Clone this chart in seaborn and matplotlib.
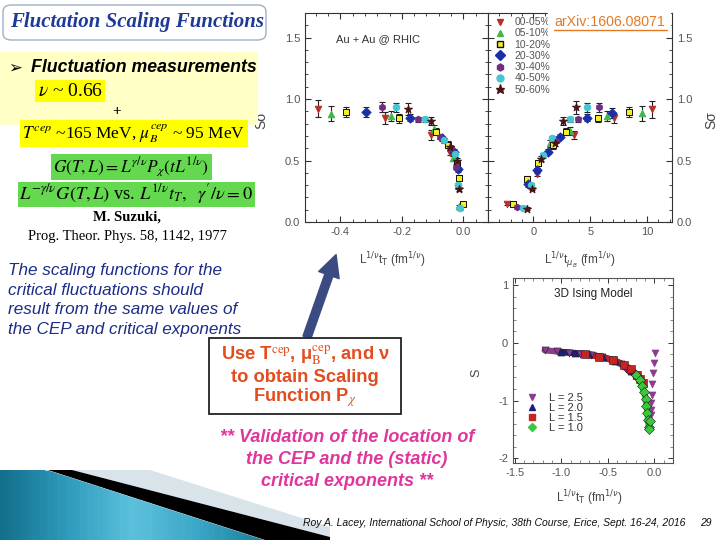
import numpy as np
import pandas as pd
import matplotlib
matplotlib.use("Agg")
import matplotlib.pyplot as plt
import seaborn as sns
from matplotlib.patches import Rectangle, FancyBboxPatch, Polygon, FancyArrowPatch
from matplotlib.lines import Line2D
from matplotlib.ticker import MultipleLocator

sns.set_style("ticks")
plt.rcParams["font.family"] = ["Liberation Sans", "DejaVu Sans"]
plt.rcParams["mathtext.fontset"] = "dejavusans"

# ---- scaling data ----
CLASSES = ["00-05%", "05-10%", "10-20%", "20-30%", "30-40%", "40-50%", "50-60%"]
CLS_COLORS = ["#b8302c", "#3fb84a", "#f2ee2a", "#1c2fa8", "#6e2f82", "#46c6d2", "#4a1414"]
CLS_MARKERS = ["v", "^", "s", "D", "h", "o", "*"]

# left panel: S*sigma vs L^(1/nu) t_T
T_CLASS = (["00-05%"] * 5 + ["05-10%"] * 5 + ["10-20%"] * 7 + ["20-30%"] * 5
           + ["30-40%"] * 5 + ["40-50%"] * 6 + ["50-60%"] * 5)
T_X = [-0.472, -0.256, -0.106, -0.045, -0.016,
       -0.432, -0.236, -0.095, -0.035, -0.013,
       -0.381, -0.208, -0.090, -0.051, -0.021, -0.015, -0.002,
       -0.317, -0.175, -0.070, -0.030, -0.018,
       -0.264, -0.146, -0.076, -0.040, -0.024,
       -0.219, -0.124, -0.063, -0.026, -0.016, -0.011,
       -0.179, -0.104, -0.043, -0.020, -0.015]
T_Y = [0.92, 0.845, 0.71, 0.565, 0.28,
       0.88, 0.865, 0.755, 0.52, 0.13,
       0.897, 0.842, 0.735, 0.63, 0.48, 0.36, 0.15,
       0.894, 0.848, 0.68, 0.57, 0.43,
       0.935, 0.834, 0.695, 0.60, 0.45,
       0.932, 0.834, 0.666, 0.55, 0.30, 0.11,
       0.921, 0.823, 0.61, 0.50, 0.27]
T_ERR = [0.07, 0.05, 0.04, 0.02, 0.015,
         0.06, 0.04, 0.03, 0.02, 0.01,
         0.04, 0.035, 0.03, 0.03, 0.02, 0.02, 0.01,
         0.04, 0.03, 0.02, 0.02, 0.02,
         0.04, 0.02, 0.02, 0.02, 0.02,
         0.04, 0.02, 0.02, 0.02, 0.02, 0.01,
         0.05, 0.03, 0.02, 0.02, 0.015]

# right panel: S*sigma vs L^(1/nu) t_muB
M_CLASS = (["00-05%"] * 5 + ["05-10%"] * 4 + ["10-20%"] * 7 + ["20-30%"] * 6
           + ["30-40%"] * 4 + ["40-50%"] * 6 + ["50-60%"] * 6)
M_X = [10.44, 7.06, 3.59, 0.29, -2.3,
       9.56, 6.47, 3.24, 1.47,
       8.38, 5.68, 2.88, 1.76, 0.44, -0.53, -1.82,
       6.91, 4.70, 2.35, 1.32, 0.29, -0.44,
       5.74, 3.88, 2.0, -1.41,
       4.70, 3.24, 1.6, 0.88, -0.21, -0.88,
       3.76, 2.59, 1.9, 0.65, -0.15, -0.59]
M_Y = [0.916, 0.842, 0.707, 0.394, 0.15,
       0.883, 0.861, 0.74, 0.64,
       0.897, 0.842, 0.734, 0.625, 0.476, 0.353, 0.144,
       0.889, 0.848, 0.693, 0.571, 0.42, 0.307,
       0.932, 0.834, 0.66, 0.122,
       0.932, 0.834, 0.68, 0.543, 0.30, 0.117,
       0.932, 0.823, 0.64, 0.516, 0.272, 0.109]
M_ERR = [0.07, 0.04, 0.03, 0.02, 0.01,
         0.06, 0.04, 0.03, 0.03,
         0.04, 0.03, 0.03, 0.03, 0.02, 0.02, 0.01,
         0.04, 0.03, 0.02, 0.02, 0.02, 0.02,
         0.04, 0.02, 0.02, 0.01,
         0.04, 0.02, 0.02, 0.02, 0.02, 0.01,
         0.05, 0.03, 0.02, 0.02, 0.015, 0.01]

# 3D Ising model scaling function
L_LABELS = ["L = 2.5", "L = 2.0", "L = 1.5", "L = 1.0"]
L_COLORS = ["#8a3c8e", "#1e1e7a", "#c42424", "#3cc83c"]
L_MARKERS = ["v", "^", "s", "D"]
IS_L = (["L = 2.5"] * 10 + ["L = 2.0"] * 8 + ["L = 1.5"] * 8 + ["L = 1.0"] * 11)
IS_X = [-1.18, -1.05, -0.92, -0.80, -0.68, -0.56, -0.45, -0.36, -0.30, -0.24,
        -1.00, -0.85, -0.70, -0.55, -0.42, -0.32, -0.25, -0.20,
        -0.75, -0.60, -0.45, -0.33, -0.25, -0.19, -0.15, -0.12,
        -0.20, -0.16, -0.13, -0.11, -0.095, -0.085, -0.075, -0.068, -0.062, -0.058, -0.045]
IS_Y = [-0.13, -0.15, -0.17, -0.19, -0.21, -0.25, -0.30, -0.37, -0.45, -0.52,
        -0.16, -0.18, -0.20, -0.25, -0.31, -0.39, -0.48, -0.55,
        -0.20, -0.24, -0.30, -0.38, -0.46, -0.55, -0.62, -0.70,
        -0.55, -0.65, -0.75, -0.86, -0.98, -1.10, -1.22, -1.34, -1.45, -1.50, -1.35]
# separate column of L = 2.5 points near t = 0
COL_X = [0.005, -0.005, -0.015, -0.022, -0.028, -0.033, -0.037, -0.040]
COL_Y = [-0.17, -0.35, -0.52, -0.71, -0.90, -1.04, -1.16, -1.25]

W, H = 720, 540
fig = plt.figure(figsize=(7.2, 5.4), dpi=100)


def fx(x):
    return x / W


def fy(y):
    return 1 - y / H


def frect(x0, y0, x1, y1, **kw):
    r = Rectangle((fx(x0), fy(y1)), (x1 - x0) / W, (y1 - y0) / H,
                  transform=fig.transFigure, **kw)
    fig.add_artist(r)
    return r


def ftext(x, y, s, **kw):
    kw.setdefault("va", "center")
    return fig.text(fx(x), fy(y), s, **kw)


def ax_rect(x0, y0, x1, y1):
    return [fx(x0), fy(y1), (x1 - x0) / W, (y1 - y0) / H]


# ---- scaling panels ----
df_T = pd.DataFrame({"cls": T_CLASS, "x": T_X, "y": T_Y, "err": T_ERR})
df_M = pd.DataFrame({"cls": M_CLASS, "x": M_X, "y": M_Y, "err": M_ERR})

axL = fig.add_axes(ax_rect(305, 13, 488, 222))
axR = fig.add_axes(ax_rect(488, 13, 672, 222))


def draw_panel(ax, df):
    ax.errorbar(df["x"], df["y"], yerr=df["err"], fmt="none", ecolor="#222222",
                elinewidth=0.8, capsize=2.5, capthick=0.8, zorder=2)
    for c, col, mk in zip(CLASSES, CLS_COLORS, CLS_MARKERS):
        sub = df[df["cls"] == c]
        ec = "#111111" if c == "10-20%" else col
        sns.scatterplot(data=sub, x="x", y="y", color=col, marker=mk,
                        s=36 if mk == "*" else 22, edgecolor=ec, linewidth=0.7,
                        ax=ax, zorder=3, legend=False)


draw_panel(axL, df_T)
draw_panel(axR, df_M)

tick_kw = dict(direction="in", top=True, right=True, left=True, bottom=True,
               labelsize=8, labelcolor="#555555", color="#333333")
for ax in (axL, axR):
    ax.set_ylim(0, 1.7)
    ax.yaxis.set_major_locator(MultipleLocator(0.5))
    ax.yaxis.set_minor_locator(MultipleLocator(0.1))
    ax.tick_params(which="major", length=4, width=0.8, **tick_kw)
    ax.tick_params(which="minor", length=2, width=0.6, direction="in",
                   top=True, right=True, left=True, bottom=True)
    for sp in ax.spines.values():
        sp.set_linewidth(0.8)
        sp.set_color("#333333")

axL.set_xlim(-0.515, 0.08)
axL.xaxis.set_minor_locator(MultipleLocator(0.04))
axL.set_xticks([-0.4, -0.2, 0.0])
axL.set_xticklabels(["-0.4", "-0.2", "0.0"])
axL.set_yticks([0.0, 0.5, 1.0, 1.5])
axL.set_yticklabels(["0.0", "0.5", "1.0", "1.5"])
axL.tick_params(labelright=False)

axR.set_xlim(-4.0, 12.2)
axR.set_xticks([0, 5, 10])
axR.xaxis.set_minor_locator(MultipleLocator(1))
axR.set_yticks([0.0, 0.5, 1.0, 1.5])
axR.set_yticklabels(["0.0", "0.5", "1.0", "1.5"])
axR.tick_params(labelleft=False, labelright=True)

axL.set_xlabel(r"L$^{1/\nu}$t$_{\rm T}$ (fm$^{1/\nu}$)", fontsize=8.5, color="#444444")
axL.xaxis.set_label_coords(0.48, -0.135)
axR.set_xlabel(r"L$^{1/\nu}$t$_{\mu_B}$ (fm$^{1/\nu}$)", fontsize=8.5, color="#444444")
axR.xaxis.set_label_coords(0.50, -0.135)
axL.set_ylabel("Sσ", fontsize=10, color="#444444")
axL.yaxis.set_label_coords(-0.20, 0.49)
axR.set_ylabel("Sσ", fontsize=10, color="#444444", rotation=90)
axR.yaxis.set_label_position("right")
axR.yaxis.set_label_coords(1.175, 0.49)

axL.text(0.17, 0.875, "Au + Au @ RHIC", transform=axL.transAxes, fontsize=8,
         color="#333333", va="center")

handles = [Line2D([], [], ls="none", marker=mk, color=col,
                  markeredgecolor=("#111111" if c == "10-20%" else col),
                  markersize=5 if mk != "*" else 6.5)
           for c, col, mk in zip(CLASSES, CLS_COLORS, CLS_MARKERS)]
leg = axR.legend(handles, CLASSES, loc="upper left", bbox_to_anchor=(0.03, 0.985),
                 frameon=False, fontsize=7.5, handlelength=1.0, handletextpad=0.9,
                 labelspacing=0.12, borderaxespad=0, borderpad=0.1)
for t in leg.get_texts():
    t.set_color("#555555")

# ---- 3D Ising panel ----
df_I = pd.DataFrame({"L": IS_L, "x": IS_X, "y": IS_Y})
axI = fig.add_axes(ax_rect(513, 278, 673, 463))
for lab, col, mk in zip(L_LABELS, L_COLORS, L_MARKERS):
    sub = df_I[df_I["L"] == lab]
    sns.lineplot(data=sub, x="x", y="y", sort=False, color=col, lw=4.5,
                 ax=axI, legend=False, zorder=2)
    sns.scatterplot(data=sub, x="x", y="y", color=col, marker=mk, s=26,
                    edgecolor="#222222", linewidth=0.4, ax=axI, legend=False, zorder=3)
    if lab == "L = 2.5":
        sns.scatterplot(x=COL_X, y=COL_Y, color=col, marker=mk, s=26,
                        edgecolor=col, linewidth=0.4, ax=axI, legend=False, zorder=3)
axI.set_xlim(-1.52, 0.2)
axI.set_ylim(-2.08, 1.12)
axI.set_xticks([-1.5, -1.0, -0.5, 0.0])
axI.set_xticklabels(["-1.5", "-1.0", "-0.5", "0.0"])
axI.set_yticks([-2, -1, 0, 1])
axI.set_yticklabels(["-2", "-1", "0", "1"])
axI.xaxis.set_minor_locator(MultipleLocator(0.1))
axI.yaxis.set_minor_locator(MultipleLocator(0.2))
axI.tick_params(which="major", length=3.5, width=0.7, **tick_kw)
axI.tick_params(which="minor", length=2, width=0.5, direction="in",
                top=True, right=True, left=True, bottom=True, color="#555555")
for sp in axI.spines.values():
    sp.set_linewidth(0.8)
    sp.set_color("#555555")
axI.set_xlabel(r"L$^{1/\nu}$t$_{\rm T}$ (fm$^{1/\nu}$)", fontsize=8.5, color="#444444")
axI.xaxis.set_label_coords(0.48, -0.135)
axI.set_ylabel("S", fontsize=9, color="#444444")
axI.yaxis.set_label_coords(-0.19, 0.49)
axI.text(0.5, 0.915, "3D Ising Model", transform=axI.transAxes, ha="center",
         va="center", fontsize=8.5, color="#222222")
ih = [Line2D([], [], ls="none", marker=mk, color=col, markersize=4.5)
      for col, mk in zip(L_COLORS, L_MARKERS)]
legI = axI.legend(ih, L_LABELS, loc="upper left", bbox_to_anchor=(0.08, 0.385),
                  frameon=False, fontsize=8, handlelength=1.0, handletextpad=1.0,
                  labelspacing=0.0, borderaxespad=0, borderpad=0.1)
for t in legI.get_texts():
    t.set_color("#333333")

# ---- slide decorations and text ----
fig.add_artist(FancyBboxPatch((fx(3), fy(40)), (266 - 3) / W, (40 - 5) / H,
                              boxstyle="round,pad=0,rounding_size=0.012",
                              transform=fig.transFigure, facecolor="white",
                              edgecolor="#9fb0c8", lw=1.0))
ftext(10, 22, "Fluctation Scaling Functions", fontsize=15, fontweight="bold",
      fontstyle="italic", family=["Liberation Serif", "DejaVu Serif"], color="#1f3a96")

frect(0, 52, 258, 125, facecolor="#ffffc6", edgecolor="none", zorder=0.5)
ftext(8, 68, "\u27a2", fontsize=12, family=["DejaVu Sans"], color="black")
ftext(31, 68, "Fluctuation measurements", fontsize=12.8, fontweight="bold",
      fontstyle="italic", color="black")

frect(35, 80, 105, 102, facecolor="#ffff00", edgecolor="none", zorder=0.6)
ftext(38, 91, r"$\nu$ ~ 0.66", fontsize=14, family=["Liberation Serif"],
      math_fontfamily="stix", color="black")
ftext(117, 112, "+", fontsize=11, fontweight="bold", ha="center",
      family=["Liberation Serif"], color="black")
frect(20, 120, 248, 147, facecolor="#ffff00", edgecolor="none", zorder=0.6)
ftext(134, 134, r"$T^{cep}$ ~165 MeV, $\mu_B^{cep}$ ~ 95 MeV", fontsize=12.5,
      ha="center", family=["Liberation Serif"], math_fontfamily="stix", color="black")
frect(51, 154, 212, 180, facecolor="#64d84e", edgecolor="none", zorder=0.6)
ftext(131, 167, r"$G(T,L) = L^{\gamma/\nu}P_\chi(tL^{1/\nu})$", fontsize=12.5,
      ha="center", math_fontfamily="stix", color="black")
frect(18, 182, 255, 207, facecolor="#64d84e", edgecolor="none", zorder=0.6)
ftext(136, 194, r"$L^{-\gamma/\nu}G(T,L)$ vs. $L^{1/\nu}t_T,\ \ \gamma'/\nu = 0$",
      fontsize=13.2, ha="center", family=["Liberation Serif"],
      math_fontfamily="stix", color="black")
ftext(127, 217, "M. Suzuki,", fontsize=10.5, ha="center", fontweight="bold",
      family=["Liberation Serif"], color="black")
ftext(127, 236, "Prog. Theor. Phys. 58, 1142, 1977", fontsize=10.5, ha="center",
      family=["Liberation Serif"], color="black")

blue_lines = ["The scaling functions for the", "critical fluctuations should",
              "result from the same values of", "the CEP and critical exponents"]
for i, s in enumerate(blue_lines):
    ftext(8, 271 + i * 19.5, s, fontsize=12.3, fontstyle="italic", color="#1b2c88")

fig.add_artist(FancyArrowPatch((fx(306), fy(340)), (fx(337), fy(252)),
                               transform=fig.transFigure,
                               arrowstyle="simple,head_width=1.3,head_length=1.3,tail_width=0.5",
                               mutation_scale=12, color="#3b4a80", zorder=4))

frect(209, 338, 401, 414, facecolor="white", edgecolor="#222222", lw=1.3, zorder=5)
red_kw = dict(fontsize=13.2, fontweight="bold", ha="center", color="#e24c1f",
              math_fontfamily="stix", zorder=6)
ftext(305, 355, r"Use T$^{\rm cep}$, μ$_{\rm B}^{\rm cep}$, and ν", **red_kw)
ftext(305, 377, "to obtain Scaling", **red_kw)
ftext(305, 398, r"Function P$_\chi$", **red_kw)

mag_lines = ["** Validation of the location of", "the CEP and the (static)",
             "critical exponents **"]
for i, s in enumerate(mag_lines):
    ftext(347, 437 + i * 22, s, fontsize=13, fontweight="bold",
          fontstyle="italic", ha="center", color="#e0369c")

ftext(303, 523, "Roy A. Lacey, International School of Physic, 38th Course, Erice, "
      "Sept. 16-24, 2016", fontsize=7.5, fontstyle="italic", color="#111111")
ftext(700, 523, "29", fontsize=7.5, fontstyle="italic", color="#111111")

# arXiv reference
ftext(554, 22, "arXiv:1606.08071", fontsize=10.2, color="#e27a25",
      backgroundcolor="white", zorder=6)
fig.add_artist(Line2D([fx(554), fx(667)], [fy(30), fy(30)], transform=fig.transFigure,
                      color="#e27a25", lw=1.0, zorder=7))


# bottom-left swoosh (pixel coordinates inside a bare axes)
axG = fig.add_axes([0, 0, fx(330), 70 / H], zorder=-1)
axG.set_axis_off()
axG.add_patch(Polygon([(72, 470), (150, 470), (330, 527), (330, 537)], closed=True,
                      facecolor="#d8e4ea", edgecolor="none"))
axG.add_patch(Polygon([(48, 470), (72, 470), (330, 537), (330, 540), (265, 540)],
                      closed=True, facecolor="black", edgecolor="none"))
teal = sns.blend_palette(["#136f8c", "#2f9bbd", "#5cc0dc", "#3aa6c6", "#1a7d9c"], 60)
edges = np.linspace(0, 266, 61)
for i, c in enumerate(teal):
    xs = np.array([edges[i], edges[i + 1] + 0.6])
    top = np.where(xs <= 48, 470, 470 + (xs - 48) * 70 / 217)
    axG.fill_between(xs, top, 540, color=c, lw=0)
axG.set_xlim(0, 330)
axG.set_ylim(540, 470)

fig.savefig("out.png", dpi=100)
